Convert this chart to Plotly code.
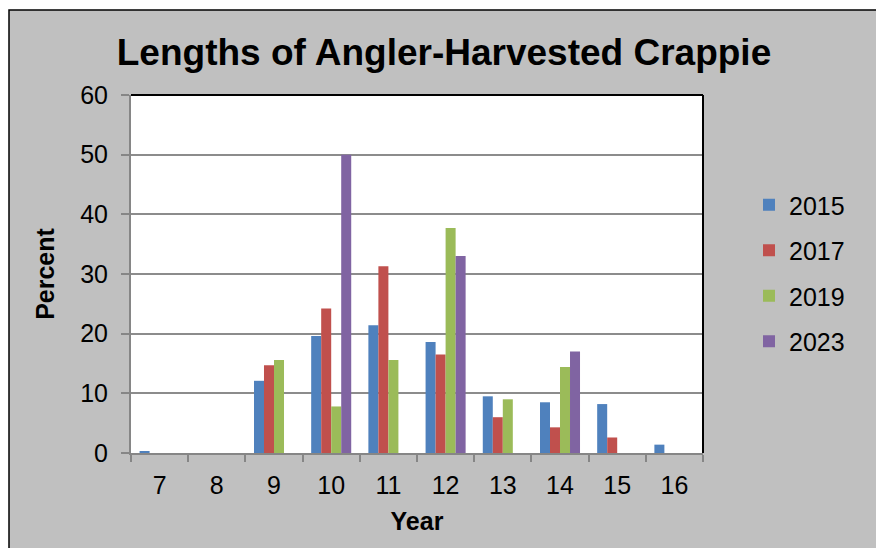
import plotly.graph_objects as go

lengths = ["7", "8", "9", "10", "11", "12", "13", "14", "15", "16"]
series_names = ["2015", "2017", "2019", "2023"]
v2015 = [0.3, 0, 12.1, 19.6, 21.4, 18.6, 9.5, 8.5, 8.2, 1.4]
v2017 = [0, 0, 14.7, 24.2, 31.3, 16.5, 6.0, 4.3, 2.6, 0]
v2019 = [0, 0, 15.6, 7.8, 15.6, 37.7, 9.0, 14.4, 0, 0]
v2023 = [0, 0, 0, 50.0, 0, 33.0, 0, 17.0, 0, 0]
colors = ["#4F81BD", "#C0504D", "#9BBB59", "#8064A2"]
y_ticks = [0, 10, 20, 30, 40, 50, 60]

# page has an 8px body margin; work in figure coordinates
W, H = 876, 540
L, R, T, B = 123, 695, 87, 445
pw, ph = R - L, B - T

def px(X):
    return (X - L) / pw

def py(Y):
    return (B - Y) / ph

FONT = "Liberation Sans, Arial, sans-serif"

fig = go.Figure()
for name, vals, c in zip(series_names, [v2015, v2017, v2019, v2023], colors):
    fig.add_trace(go.Bar(x=lengths, y=vals, name=name, marker_color=c,
                         marker_line_width=0, legendgroup=name))

shapes = [
    dict(type="rect", xref="paper", yref="paper", x0=px(1), x1=px(873), y0=py(560), y1=py(2),
         fillcolor="#C0C0C0", line=dict(color="black", width=1.5), layer="below"),
    dict(type="rect", xref="paper", yref="paper", x0=0, x1=1, y0=0, y1=1,
         fillcolor="white", line=dict(width=0), layer="below"),
    dict(type="line", xref="paper", yref="paper", x0=0, x1=1, y0=1, y1=1,
         line=dict(color="black", width=2), layer="above"),
    dict(type="line", xref="paper", yref="paper", x0=1, x1=1, y0=0, y1=1,
         line=dict(color="black", width=2), layer="above"),
]

fig.update_layout(
    width=W, height=H,
    margin=dict(l=L, r=W - R, t=T, b=H - B, autoexpand=False),
    paper_bgcolor="white", plot_bgcolor="rgba(0,0,0,0)",
    font=dict(family=FONT, color="black", size=25),
    title=dict(text="<b>Lengths of Angler-Harvested Crappie</b>", x=436 / W, xref="container",
               xanchor="center", y=1 - 44 / H, yref="container", yanchor="middle",
               font=dict(size=37, family=FONT, color="black")),
    barmode="group", bargap=0.3, bargroupgap=0,
    xaxis=dict(type="category", range=[-0.5, 9.5], showgrid=False,
               showline=True, linecolor="#868686", linewidth=2,
               ticks="outside", tickson="boundaries", ticklen=7, tickwidth=2, tickcolor="#868686",
               tickfont=dict(size=25), ticklabelstandoff=9,
               title=dict(text="<b>Year</b>", font=dict(size=25), standoff=14)),
    yaxis=dict(range=[0, 60], tickvals=y_ticks, showgrid=True, gridcolor="#8C8C8C", gridwidth=2,
               showline=True, linecolor="#868686", linewidth=2, zeroline=False,
               ticks="outside", ticklen=8, tickwidth=2, tickcolor="#868686",
               tickfont=dict(size=25), ticklabelstandoff=8,
               title=dict(text="<b>Percent</b>", font=dict(size=25), standoff=18)),
    legend=dict(x=px(741), xanchor="left", y=py(174), yanchor="top",
                bgcolor="rgba(0,0,0,0)", font=dict(size=25), traceorder="grouped",
                tracegroupgap=10),
    shapes=shapes,
)

fig.write_html("out.html")
